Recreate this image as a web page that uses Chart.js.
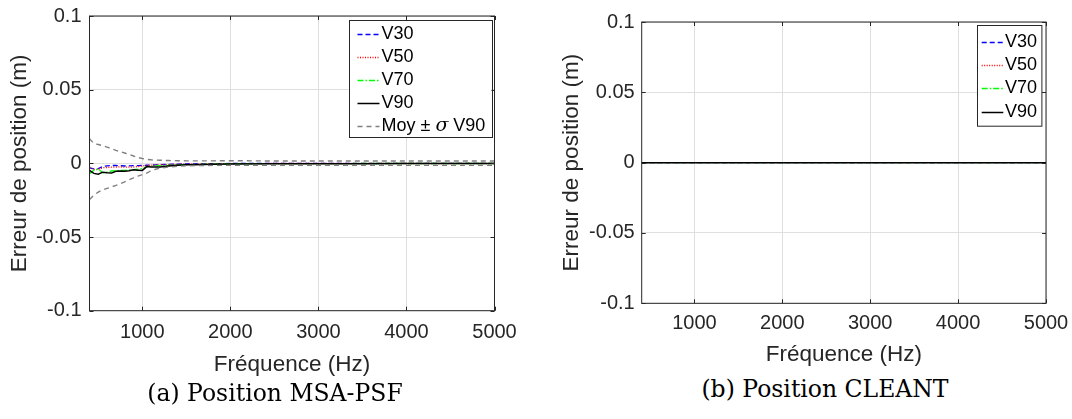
<!DOCTYPE html>
<html>
<head>
<meta charset="utf-8">
<script src="https://cdn.jsdelivr.net/npm/chart.js@4.4.1/dist/chart.umd.min.js"></script>
<style>
  html, body { margin: 0; padding: 0; background: #fff; }
  body { width: 1072px; height: 419px; position: relative; overflow: hidden; }
  .panel { position: absolute; top: 0; }
  #boxA { left: 0; width: 530px; height: 380px; }
  #boxB { left: 540px; width: 532px; height: 370px; }
  .caption {
    position: absolute;
    font-family: "DejaVu Serif", serif;
    font-size: 23.5px;
    color: #000;
    white-space: nowrap;
    transform: translateX(-50%);
  }
</style>
</head>
<body>
<div class="panel" id="boxA"><canvas id="chartA"></canvas></div>
<div class="panel" id="boxB"><canvas id="chartB"></canvas></div>
<div class="caption" style="left:275px; top:379px;">(a) Position MSA-PSF</div>
<div class="caption" style="left:825px; top:375px;">(b) Position CLEANT</div>

<script>
// ---- data ----
const freqA = [400, 450, 500, 550, 600, 650, 700, 750, 800, 850, 900, 950, 1000, 1050, 1100, 1150, 1200, 1300, 1400, 1500, 1600, 1800, 2000, 2500, 3000, 3500, 4000, 4500, 5000];

const v30A = [-0.0030, -0.0038, -0.0036, -0.0022, -0.0017, -0.0015, -0.0014, -0.0016, -0.0018, -0.0017, -0.0015, -0.0016, -0.0014, -0.0013, -0.0012, -0.0010, -0.0009, -0.0007, -0.0005, -0.0003, -0.0002, -0.0002, -0.0001, 0, 0, 0, 0, 0, 0];
const v50A = [-0.0025, -0.0044, -0.0040, -0.0030, -0.0028, -0.0026, -0.0025, -0.0024, -0.0026, -0.0025, -0.0025, -0.0022, -0.0018, -0.0014, -0.0012, -0.0011, -0.0010, -0.0008, -0.0007, -0.0005, -0.0004, -0.0003, -0.0002, -0.0001, -0.0001, -0.0001, -0.0001, -0.0001, -0.0001];
const v70A = [-0.0070, -0.0046, -0.0038, -0.0064, -0.0060, -0.0052, -0.0050, -0.0048, -0.0047, -0.0045, -0.0043, -0.0040, -0.0036, -0.0022, -0.0019, -0.0017, -0.0016, -0.0014, -0.0011, -0.0009, -0.0007, -0.0005, -0.0003, -0.0002, -0.0002, -0.0001, -0.0001, -0.0001, -0.0001];
const v90A = [-0.0048, -0.0068, -0.0074, -0.0060, -0.0064, -0.0066, -0.0054, -0.0052, -0.0053, -0.0050, -0.0044, -0.0046, -0.0048, -0.0022, -0.0024, -0.0025, -0.0024, -0.0018, -0.0013, -0.0010, -0.0009, -0.0006, -0.0005, -0.0003, -0.0002, -0.0002, -0.0001, -0.0001, -0.0001];
const moyPlusA = [0.0168, 0.0134, 0.0128, 0.0120, 0.0110, 0.0100, 0.0088, 0.0080, 0.0070, 0.0060, 0.0050, 0.0040, 0.0033, 0.0027, 0.0024, 0.0022, 0.0021, 0.0019, 0.0018, 0.0017, 0.0017, 0.0017, 0.0018, 0.0016, 0.0016, 0.0016, 0.0016, 0.0016, 0.0016];
const moyMinusA = [-0.0245, -0.0215, -0.0195, -0.0180, -0.0170, -0.0160, -0.0150, -0.0138, -0.0125, -0.0112, -0.0098, -0.0087, -0.0077, -0.0066, -0.0050, -0.0040, -0.0033, -0.0025, -0.0020, -0.0017, -0.0015, -0.0014, -0.0014, -0.0014, -0.0014, -0.0014, -0.0014, -0.0014, -0.0014];

const freqB = [400, 1000, 2000, 3000, 4000, 5000];
const v30B = [0, 0, 0, 0, 0, 0];
const v50B = [0, 0, 0, 0, 0, 0];
const v70B = [0, 0, 0, 0, 0, 0];
const v90B = [0, 0, 0, 0, 0, 0];

const xTicks = [1000, 2000, 3000, 4000, 5000];
const xTickLabels = ['1000', '2000', '3000', '4000', '5000'];
const yTicks = [-0.1, -0.05, 0, 0.05, 0.1];
const yTickLabels = ['-0.1', '-0.05', '0', '0.05', '0.1'];

const FONT = '"Liberation Sans", Arial, Helvetica, sans-serif';
const AXIS_COLOR = '#262626';

function pts(xs, ys) {
  return xs.map((x, i) => ({ x: x, y: ys[i] }));
}

function line(label, xs, ys, color, dash, width, order, extra) {
  return Object.assign({
    label: label,
    data: pts(xs, ys),
    borderColor: color,
    borderDash: dash,
    borderWidth: width,
    pointRadius: 0,
    tension: 0,
    fill: false,
    order: order
  }, extra || {});
}

// Box around the axes with inward ticks (Matlab style)
const axesBox = {
  id: 'axesBox',
  afterDatasetsDraw(chart) {
    const { ctx, chartArea: a, scales: { x, y } } = chart;
    const tl = 4;
    ctx.save();
    ctx.strokeStyle = AXIS_COLOR;
    ctx.lineWidth = 1;
    ctx.setLineDash([]);
    ctx.strokeRect(a.left, a.top, a.right - a.left, a.bottom - a.top);
    ctx.beginPath();
    x.ticks.forEach(t => {
      const px = Math.round(x.getPixelForValue(t.value)) + 0.5;
      ctx.moveTo(px, a.bottom); ctx.lineTo(px, a.bottom - tl);
      ctx.moveTo(px, a.top); ctx.lineTo(px, a.top + tl);
    });
    y.ticks.forEach(t => {
      const py = Math.round(y.getPixelForValue(t.value)) + 0.5;
      ctx.moveTo(a.left, py); ctx.lineTo(a.left + tl, py);
      ctx.moveTo(a.right, py); ctx.lineTo(a.right - tl, py);
    });
    ctx.stroke();
    ctx.restore();
  }
};

// Legend drawn inside the axes, top right
const boxLegend = {
  id: 'boxLegend',
  afterDraw(chart, args, opts) {
    const { ctx, chartArea: a } = chart;
    const items = chart.data.datasets.filter(d => d.inLegend !== false);
    const left = a.right - opts.right - opts.width;
    const top = a.top + opts.top;
    const h = opts.rowH * items.length + opts.extraH;
    ctx.save();
    ctx.fillStyle = '#fff';
    ctx.fillRect(left, top, opts.width, h);
    ctx.strokeStyle = AXIS_COLOR;
    ctx.lineWidth = 1;
    ctx.strokeRect(Math.round(left) + 0.5, Math.round(top) + 0.5, opts.width, h);
    ctx.font = opts.fontSize + 'px ' + FONT;
    ctx.textBaseline = 'middle';
    items.forEach((d, i) => {
      const cy = Math.round(top + opts.firstRow + i * opts.rowH) + 0.5;
      ctx.strokeStyle = d.borderColor;
      ctx.lineWidth = d.borderWidth;
      ctx.setLineDash(d.borderDash || []);
      ctx.beginPath();
      ctx.moveTo(left + opts.lineStart, cy);
      ctx.lineTo(left + opts.lineEnd, cy);
      ctx.stroke();
      ctx.setLineDash([]);
      ctx.fillStyle = '#000';
      let tx = left + opts.textStart;
      if (d.legendParts) {
        d.legendParts.forEach(p => {
          ctx.font = p.font || (opts.fontSize + 'px ' + FONT);
          ctx.fillText(p.text, tx, cy);
          tx += ctx.measureText(p.text).width;
        });
        ctx.font = opts.fontSize + 'px ' + FONT;
      } else {
        ctx.fillText(d.label, tx, cy);
      }
    });
    ctx.restore();
  }
};

function makeOptions(o) {
  return {
    responsive: true,
    maintainAspectRatio: false,
    animation: false,
    devicePixelRatio: 1,
    layout: { padding: { top: o.padTop, right: o.padRight, left: 0, bottom: 0 } },
    plugins: {
      legend: { display: false },
      tooltip: { enabled: false },
      boxLegend: o.legend
    },
    scales: {
      x: {
        type: 'linear',
        min: 400,
        max: 5000,
        afterBuildTicks: s => { s.ticks = xTicks.map(v => ({ value: v })); },
        afterFit: s => { s.height = o.xHeight; s.paddingLeft = 0; s.paddingRight = 0; },
        ticks: {
          autoSkip: false,
          maxRotation: 0,
          padding: o.xTickPad,
          color: AXIS_COLOR,
          font: { family: FONT, size: 20 },
          callback: (v) => xTickLabels[xTicks.indexOf(v)]
        },
        grid: { color: '#dfdfdf', drawTicks: false },
        border: { display: false },
        title: {
          display: true,
          text: 'Fréquence (Hz)',
          color: AXIS_COLOR,
          font: { family: FONT, size: 22.5 },
          padding: { top: 0, bottom: 2 }
        }
      },
      y: {
        type: 'linear',
        min: -0.1,
        max: 0.1,
        afterBuildTicks: s => { s.ticks = yTicks.map(v => ({ value: v })); },
        afterFit: s => { s.width = o.yWidth; s.paddingTop = 0; s.paddingBottom = 0; },
        ticks: {
          padding: o.yTickPad,
          color: AXIS_COLOR,
          font: { family: FONT, size: 20 },
          callback: (v) => yTickLabels[yTicks.findIndex(t => Math.abs(t - v) < 1e-9)]
        },
        grid: { color: '#dfdfdf', drawTicks: false },
        border: { display: false },
        title: {
          display: true,
          text: 'Erreur de position (m)',
          color: AXIS_COLOR,
          font: { family: FONT, size: 22.5 },
          padding: { top: o.yTitlePad, bottom: 0 }
        }
      }
    }
  };
}

// (a) MSA-PSF
new Chart(document.getElementById('chartA'), {
  type: 'line',
  data: {
    datasets: [
      line('V30', freqA, v30A, '#0000ff', [5, 3], 1.3, 6),
      line('V50', freqA, v50A, '#ff0000', [1, 1.5], 1.3, 5),
      line('V70', freqA, v70A, '#00ff00', [6, 2, 1.5, 2], 1.3, 4),
      line('V90', freqA, v90A, '#000000', [], 1.5, 3),
      line('Moy ± σ V90', freqA, moyPlusA, '#808080', [5, 4], 1.4, 2, {
        legendParts: [
          { text: 'Moy ' },
          { text: '±' },
          { text: ' ' },
          { text: 'σ', font: 'italic 19px "DejaVu Serif", serif' },
          { text: ' V90' }
        ]
      }),
      line('Moy - σ V90', freqA, moyMinusA, '#808080', [5, 4], 1.4, 1, { inLegend: false })
    ]
  },
  options: makeOptions({
    padTop: 16, padRight: 35.5, xHeight: 69.3, yWidth: 89.5,
    xTickPad: 10, yTickPad: 8, yTitlePad: 6,
    legend: { right: 3, top: 4, width: 143, rowH: 23, extraH: 2, firstRow: 13.5,
              lineStart: 9, lineEnd: 31, textStart: 33, fontSize: 18 }
  }),
  plugins: [axesBox, boxLegend]
});

// (b) CLEANT
new Chart(document.getElementById('chartB'), {
  type: 'line',
  data: {
    datasets: [
      line('V30', freqB, v30B, '#0000ff', [5, 3], 1.3, 6),
      line('V50', freqB, v50B, '#ff0000', [1, 1.5], 1.3, 5),
      line('V70', freqB, v70B, '#00ff00', [6, 2, 1.5, 2], 1.3, 4),
      line('V90', freqB, v90B, '#000000', [], 1.5, 3)
    ]
  },
  options: makeOptions({
    padTop: 22, padRight: 26, xHeight: 66.7, yWidth: 101.7,
    xTickPad: 8.5, yTickPad: 7, yTitlePad: 18,
    legend: { right: 4.3, top: 3, width: 64.4, rowH: 23.3, extraH: 7.5, firstRow: 16.7,
              lineStart: 4.4, lineEnd: 26, textStart: 27.7, fontSize: 18 }
  }),
  plugins: [axesBox, boxLegend]
});
</script>
</body>
</html>
